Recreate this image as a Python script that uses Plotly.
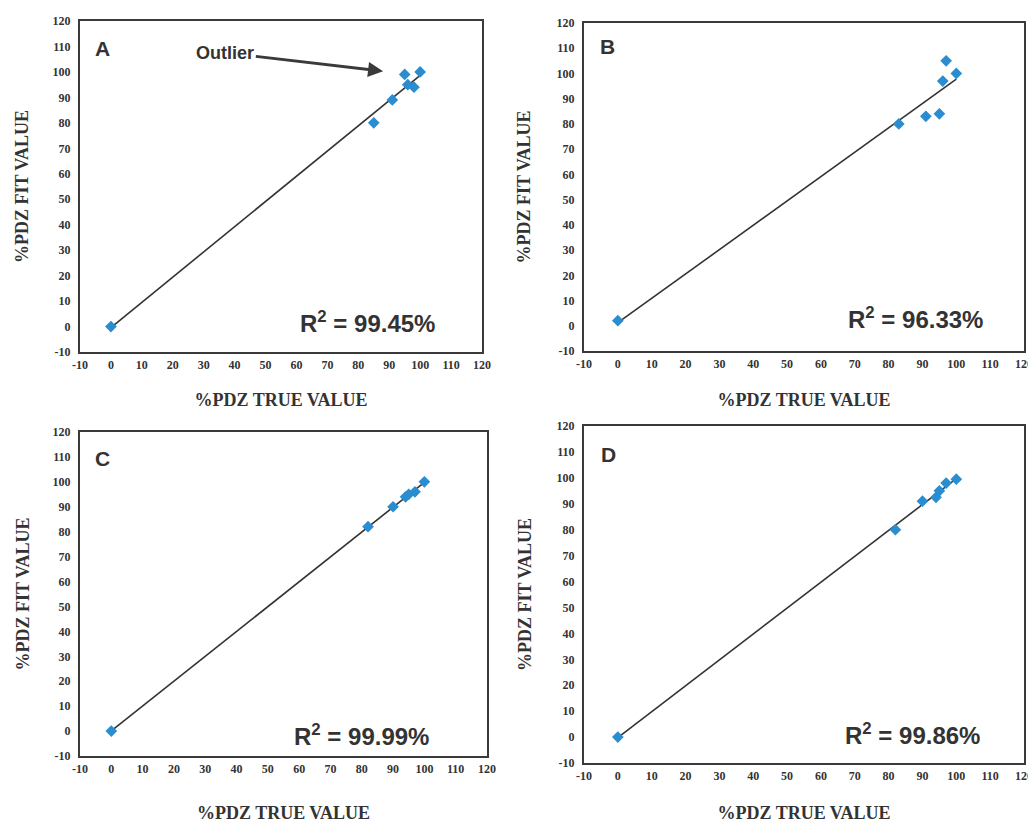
import numpy as np
import plotly.graph_objects as go

# ---------------- data ----------------
panel_labels = ["A", "B", "C", "D"]
r2_labels = ["99.45%", "96.33%", "99.99%", "99.86%"]

true_A = [0, 85, 91, 95, 96, 98, 100]
fit_A = [0, 80, 89, 99, 95, 94, 100]

true_B = [0, 83, 91, 95, 96, 97, 100]
fit_B = [2, 80, 83, 84, 97, 105, 100]

true_C = [0, 82, 90, 94, 95, 97, 100]
fit_C = [0, 82, 90, 94, 95, 96, 100]

true_D = [0, 82, 90, 94, 95, 97, 100]
fit_D = [0, 80, 91, 92.5, 95, 98, 99.5]

tick_vals = list(range(-10, 121, 10))
tick_text = [str(v) for v in tick_vals]
x_title = "%PDZ TRUE VALUE"
y_title = "%PDZ FIT VALUE"

# ---------------- layout geometry ----------------
OFF = 8                      # the page body adds an 8px margin
W, H = 1036 - OFF, 823 - OFF
boxes = [  # (left, right, top, bottom) in window pixels
    (80, 482, 21, 352),
    (584, 1024, 23, 351),
    (80, 487, 432, 756),
    (584, 1024, 426, 763),
]
x_standoff = [22, 23, 35, 25]
y_standoff = [19, 21, 18, 20]
letter_pos = [(0.032, 0.918), (0.032, 0.927), (0.032, 0.917), (0.034, 0.914)]
r2_pos = [(0.542, 0.091), (0.595, 0.10), (0.521, 0.065), (0.589, 0.086)]

series = [(true_A, fit_A), (true_B, fit_B), (true_C, fit_C), (true_D, fit_D)]

MARKER_COLOR = "#2a8dd0"
LINE_COLOR = "#333333"
TEXT_COLOR = "#333333"
serif = dict(family="Liberation Serif, Times New Roman, serif", color=TEXT_COLOR, weight="bold")
sans = dict(family="Liberation Sans, Arial, sans-serif", color=TEXT_COLOR, weight="bold")

fig = go.Figure()
annotations = []

for i, (xs, ys) in enumerate(series):
    n = "" if i == 0 else str(i + 1)
    xa, ya = "x" + n, "y" + n
    # regression (trend) line across the data range
    slope, intercept = np.polyfit(xs, ys, 1)
    lx = [min(xs), max(xs)]
    ly = [slope * v + intercept for v in lx]
    fig.add_trace(go.Scatter(x=lx, y=ly, mode="lines",
                             line=dict(color=LINE_COLOR, width=1.6),
                             xaxis=xa, yaxis=ya, showlegend=False, hoverinfo="skip"))
    fig.add_trace(go.Scatter(x=xs, y=ys, mode="markers",
                             marker=dict(symbol="diamond", size=9, color=MARKER_COLOR),
                             xaxis=xa, yaxis=ya, showlegend=False))

    l, r, t, b = [v - OFF for v in boxes[i]]
    axis_common = dict(
        range=[-10, 120], tickmode="array", tickvals=tick_vals, ticktext=tick_text,
        showgrid=False, zeroline=False, showline=True, mirror=True,
        linecolor="#3a3a3a", linewidth=2, automargin=False,
        ticks="outside", tickcolor="rgba(0,0,0,0)",
        tickfont=dict(size=12, **serif),
    )
    fig.update_layout(**{
        "xaxis" + n: dict(axis_common, domain=[l / W, r / W], anchor=ya, ticklen=1,
                           title=dict(text=x_title, font=dict(size=18, **serif),
                                      standoff=x_standoff[i])),
        "yaxis" + n: dict(axis_common, domain=[1 - b / H, 1 - t / H], anchor=xa, ticklen=5,
                           title=dict(text=y_title, font=dict(size=18, **serif),
                                      standoff=y_standoff[i])),
    })

    lxp, lyp = letter_pos[i]
    annotations.append(dict(text=panel_labels[i], xref=xa + " domain", yref=ya + " domain",
                            x=lxp, y=lyp, xanchor="left", yanchor="middle", showarrow=False,
                            font=dict(size=21, **sans)))
    rxp, ryp = r2_pos[i]
    annotations.append(dict(text="R<sup>2</sup> = " + r2_labels[i], xref=xa + " domain",
                            yref=ya + " domain", x=rxp, y=ryp, xanchor="left", yanchor="middle",
                            showarrow=False, font=dict(size=24, **sans)))

# outlier arrow in panel A
annotations.append(dict(text="Outlier", xref="x", yref="y", x=88, y=100.3,
                        axref="x", ayref="y", ax=37, ay=107.5,
                        showarrow=True, arrowhead=2, arrowsize=1, arrowwidth=3,
                        arrowcolor="#3a3a3a", font=dict(size=18, **sans)))

fig.update_layout(
    width=W, height=H, margin=dict(l=0, r=0, t=0, b=0),
    paper_bgcolor="white", plot_bgcolor="white",
    annotations=annotations,
)

fig.write_html("out.html")
